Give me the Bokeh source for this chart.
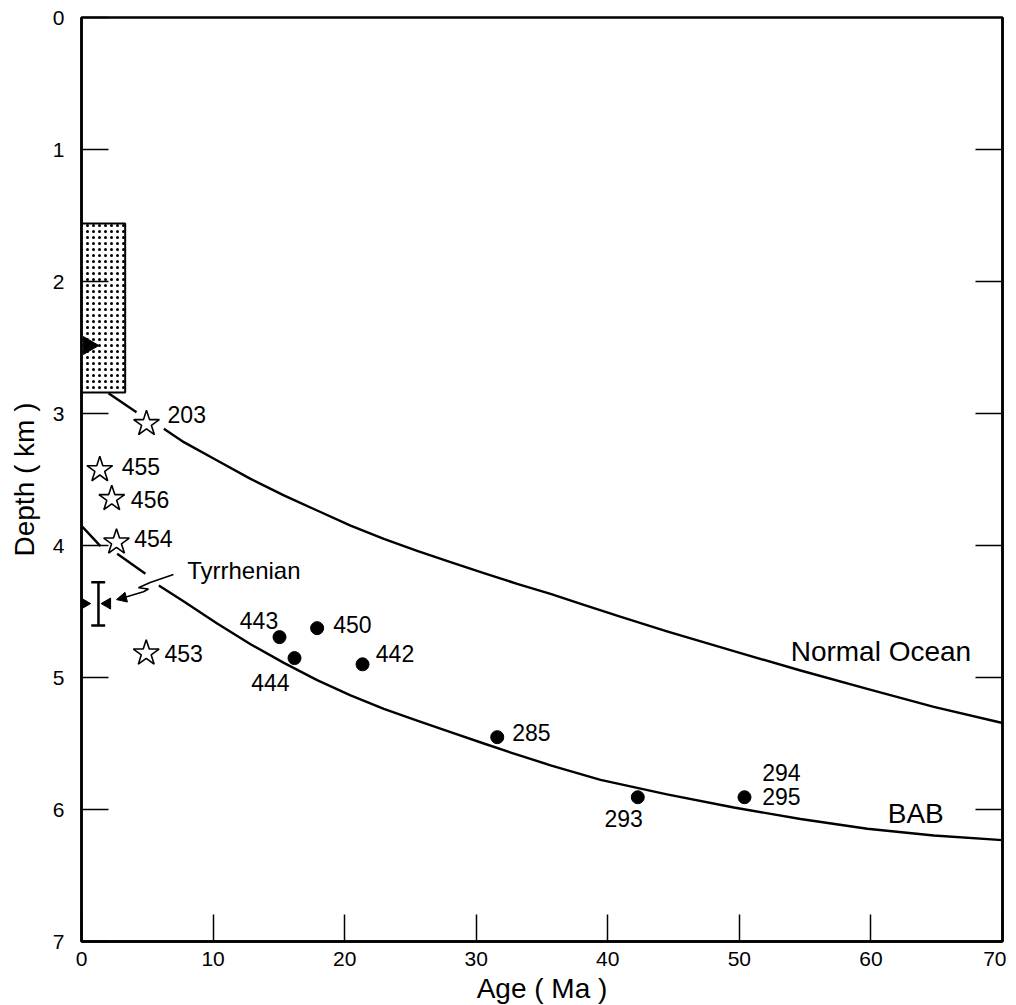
import numpy as np
from bokeh.plotting import figure
from bokeh.models import Range1d, LinearAxis, FixedTicker, Arrow, NormalHead, ColumnDataSource
from bokeh.core.properties import value
from bokeh.embed import file_html
from bokeh.resources import INLINE

FONT = "Liberation Sans"

# ---- axes ----
x_ticks = [0, 10, 20, 30, 40, 50, 60, 70]
y_ticks = [0, 1, 2, 3, 4, 5, 6, 7]
right_ticks = [1, 2, 3, 4, 5, 6]

# ---- Normal Ocean curve (broken around symbol 203) ----
normal_age_1 = [2.05, 4.18]
normal_depth_1 = [2.846, 2.99]
normal_age_2 = [6.26, 7.78, 10.31, 12.85, 15.38, 17.91, 20.45, 22.98, 25.51, 28.05,
                30.58, 33.11, 35.65, 38.18, 41.0, 44.5, 49.58, 54.65, 59.72, 64.78, 70.0]
normal_depth_2 = [3.116, 3.217, 3.356, 3.495, 3.62, 3.735, 3.85, 3.95, 4.04, 4.126,
                  4.21, 4.29, 4.366, 4.45, 4.54, 4.65, 4.80, 4.947, 5.086, 5.222, 5.345]

# ---- BAB curve (broken around 454 and the Tyrrhenian leader) ----
bab_age_1 = [0.0, 1.44]
bab_depth_1 = [3.85, 4.005]
bab_age_2 = [2.71, 4.86]
bab_depth_2 = [4.063, 4.214]
bab_age_3 = [5.88, 7.78, 10.31, 12.85, 15.38, 17.91, 20.45, 22.98, 25.51, 28.05, 30.58,
             33.11, 35.65, 39.45, 44.5, 49.58, 54.65, 59.72, 64.78, 70.0]
bab_depth_3 = [4.303, 4.425, 4.59, 4.748, 4.889, 5.02, 5.136, 5.237, 5.326, 5.414, 5.50,
               5.585, 5.665, 5.775, 5.885, 5.985, 6.072, 6.146, 6.197, 6.232]

# ---- open stars ----
star_age = [4.94, 1.39, 2.30, 2.66, 4.92]
star_depth = [3.078, 3.427, 3.646, 3.975, 4.816]
star_label = ["203", "455", "456", "454", "453"]
star_label_age = [6.54, 3.06, 3.75, 4.0, 6.31]
star_label_depth = [3.01, 3.40, 3.654, 3.95, 4.815]

# ---- filled circles ----
dot_age = [15.05, 16.19, 17.91, 21.36, 31.6, 42.28, 50.39]
dot_depth = [4.694, 4.853, 4.626, 4.90, 5.452, 5.907, 5.907]

dot_label = ["443", "444", "450", "442", "285", "294", "295", "293"]
dot_label_age = [14.95, 12.9, 19.13, 22.37, 32.73, 51.74, 51.74, 41.2]
dot_label_depth = [4.568, 5.035, 4.60, 4.815, 5.42, 5.717, 5.90, 6.07]
dot_label_align = ["right", "left", "left", "left", "left", "left", "left", "center"]

# ---- stippled box (shallow range) and marker ----
box_age = [0.0, 3.32]
box_depth = [1.56, 2.84]
box_marker_age = [0.53]
box_marker_depth = [2.485]

# ---- Tyrrhenian ----
tyr_age = [1.29]
tyr_depth_range = [4.278, 4.606]
tyr_cap_age = [0.74, 1.80]
tyr_axis_tri_age = [0.3]
tyr_inner_tri_age = [1.97]
tyr_tri_depth = [4.44]
tyr_leader_age = [6.99, 5.22, 4.33, 5.09, 4.71, 3.06]
tyr_leader_depth = [4.22, 4.28, 4.32, 4.33, 4.35, 4.40]
tyr_arrow_tip = [2.66, 4.41]
tyr_text_pos = [8.03, 4.19]

# ---- curve labels ----
curve_label = ["Normal Ocean", "BAB"]
curve_label_age = [53.9, 61.28]
curve_label_depth = [4.80, 6.03]

p = figure(
    frame_width=921, frame_height=924,
    min_border_left=81, min_border_top=17, min_border_right=4, min_border_bottom=60,
    x_range=Range1d(0, 70), y_range=Range1d(7, 0),
    output_backend="svg", toolbar_location=None,
    x_axis_label="Age ( Ma )", y_axis_label="Depth ( km )",
)
p.grid.visible = False
p.outline_line_color = "black"
p.outline_line_width = 2.5
p.background_fill_color = "white"
p.border_fill_color = "white"

for ax in (p.xaxis[0], p.yaxis[0]):
    ax.axis_line_width = 2.5
    ax.major_tick_in = 27
    ax.major_tick_out = 0
    ax.major_tick_line_width = 1.5
    ax.minor_tick_line_color = None
    ax.major_label_text_font = FONT
    ax.major_label_text_font_size = "21px"
    ax.major_label_text_color = "black"
    ax.axis_label_text_font = FONT
    ax.axis_label_text_font_size = "28px"
    ax.axis_label_text_font_style = "normal"
    ax.axis_label_text_color = "black"
p.xaxis[0].ticker = FixedTicker(ticks=x_ticks)
p.yaxis[0].ticker = FixedTicker(ticks=y_ticks)
p.xaxis[0].major_label_standoff = 10
p.xaxis[0].axis_label_standoff = 4
p.yaxis[0].major_label_standoff = 17
p.yaxis[0].axis_label_standoff = 10

right = LinearAxis(ticker=FixedTicker(ticks=right_ticks))
right.major_tick_in = 27
right.major_tick_out = 0
right.major_tick_line_width = 1.5
right.minor_tick_line_color = None
right.axis_line_width = 2.5
right.major_label_overrides = {t: "" for t in right_ticks}
right.major_label_standoff = 0
p.add_layout(right, "right")

# stippled box
p.quad(left=[box_age[0]], right=[box_age[1]], top=[box_depth[0]], bottom=[box_depth[1]],
       fill_color="white", line_color="black", line_width=2,
       hatch_pattern="dot", hatch_scale=6, hatch_color="black", hatch_weight=1.2)
p.scatter(box_marker_age, box_marker_depth, marker="triangle", angle=-np.pi / 2,
          size=18, fill_color="black", line_color="black")

# curves
lw = 2.4
p.line(normal_age_1, normal_depth_1, line_color="black", line_width=lw)
p.line(normal_age_2, normal_depth_2, line_color="black", line_width=lw, line_join="round")
p.line(bab_age_1, bab_depth_1, line_color="black", line_width=lw)
p.line(bab_age_2, bab_depth_2, line_color="black", line_width=lw)
p.line(bab_age_3, bab_depth_3, line_color="black", line_width=lw, line_join="round")

# stars and dots
p.scatter(star_age, star_depth, marker="star", size=27, fill_color="white",
          line_color="black", line_width=1.6)
p.scatter(dot_age, dot_depth, marker="circle", size=13, fill_color="black", line_color="black")

p.text(star_label_age, star_label_depth, text=star_label, text_font=value(FONT),
       text_font_size="23px", text_baseline="middle", text_align="left", text_color="black")
src = ColumnDataSource(dict(x=dot_label_age, y=dot_label_depth, t=dot_label, a=dot_label_align))
p.text("x", "y", text="t", text_align="a", source=src, text_font=value(FONT),
       text_font_size="23px", text_baseline="middle", text_color="black")
p.text(curve_label_age, curve_label_depth, text=curve_label, text_font=value(FONT),
       text_font_size="28px", text_baseline="middle", text_align="left", text_color="black")

# Tyrrhenian error bar, markers and leader
p.segment(x0=tyr_age, y0=[tyr_depth_range[0]], x1=tyr_age, y1=[tyr_depth_range[1]],
          line_color="black", line_width=2.5)
p.segment(x0=[tyr_cap_age[0]] * 2, y0=tyr_depth_range, x1=[tyr_cap_age[1]] * 2, y1=tyr_depth_range,
          line_color="black", line_width=2.5)
p.scatter(tyr_axis_tri_age, tyr_tri_depth, marker="triangle", angle=-np.pi / 2, size=9,
          fill_color="black", line_color="black")
p.scatter(tyr_inner_tri_age, tyr_tri_depth, marker="triangle", angle=np.pi / 2, size=11,
          fill_color="black", line_color="black")
p.line(tyr_leader_age, tyr_leader_depth, line_color="black", line_width=1.6)
p.add_layout(Arrow(end=NormalHead(size=10, fill_color="black", line_color="black"),
                   x_start=tyr_leader_age[-1], y_start=tyr_leader_depth[-1],
                   x_end=tyr_arrow_tip[0], y_end=tyr_arrow_tip[1],
                   line_color="black", line_width=1.6))
p.text([tyr_text_pos[0]], [tyr_text_pos[1]], text=["Tyrrhenian"], text_font=value(FONT),
       text_font_size="24px", text_baseline="middle", text_align="left", text_color="black")

open("out.html", "w").write(file_html(p, INLINE))
